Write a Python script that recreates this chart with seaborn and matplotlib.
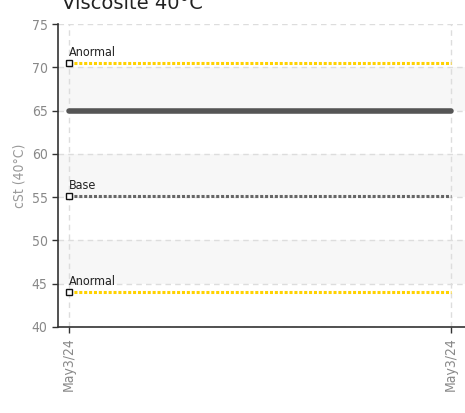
import matplotlib
matplotlib.use("Agg")
import matplotlib.pyplot as plt
import seaborn as sns
import pandas as pd
from matplotlib import font_manager

dates = ["May3/24", "May3/24"]
x_pos = [0, 1]
anormal_high = [70.5, 70.5]
mean_line = [65.0, 65.0]
base_line = [55.1, 55.1]
anormal_low = [44.0, 44.0]
y_ticks = [40, 45, 50, 55, 60, 65, 70, 75]
bands = [(45, 50), (55, 60), (65, 70)]
title = "Viscosite 40°C"
y_label = "cSt (40°C)"

sns.set_theme(style="white")
plt.rcParams['font.family'] = ['DejaVu Sans']
plt.rcParams['font.stretch'] = 'condensed'

fig = plt.figure(figsize=(4.65, 4.13), dpi=100)
ax = fig.add_axes([58/465, 1-327/413, 407/465, (327-24)/413])

for lo, hi in bands:
    ax.axhspan(lo, hi, color="#f7f7f7", zorder=0, lw=0)

df = pd.DataFrame({"x": x_pos, "ah": anormal_high, "m": mean_line,
                   "b": base_line, "al": anormal_low})

sns.lineplot(data=df, x="x", y="m", ax=ax, color="#555555", lw=4, zorder=3)
for col, colr in [("ah", "#ffd200"), ("al", "#ffd200"), ("b", "#666666")]:
    sns.lineplot(data=df, x="x", y=col, ax=ax, color=colr, lw=2.2,
                 linestyle=(0, (1, 0.6)), zorder=4,
                 marker="s", markevery=[0], markersize=5,
                 markerfacecolor="white", markeredgecolor="#111111",
                 markeredgewidth=1)

for vals, lab in [(anormal_high, "Anormal"), (base_line, "Base"), (anormal_low, "Anormal")]:
    ax.text(x_pos[0], vals[0] + 0.45, lab, fontsize=9, color="#222222",
            ha="left", va="bottom", zorder=5, fontstretch="condensed")

ax.set_xlim(-11/382, 1 + 14/382)
ax.set_ylim(40, 75)
ax.set_yticks(y_ticks)
ax.set_xticks(x_pos)
ax.set_xticklabels(dates, rotation=90, fontstretch="condensed")
ax.set_yticklabels([str(v) for v in y_ticks], fontstretch="condensed")
ax.grid(True, color="#dddddd", linestyle=(0, (4, 3)), lw=1)
ax.set_axisbelow(True)
for s in ["top", "right"]:
    ax.spines[s].set_visible(False)
for s in ["left", "bottom"]:
    ax.spines[s].set_color("#333333")
    ax.spines[s].set_linewidth(1.2)
ax.tick_params(axis="both", direction="out", length=4, width=1, color="#333333",
               labelcolor="#888888", labelsize=10, left=True, bottom=True)
ax.set_xlabel("")
ax.set_ylabel(y_label, color="#999999", fontsize=10, labelpad=4, fontstretch="condensed")

fig.text(62/465, 1-9/413, title, fontsize=14, color="#222222",
         family="DejaVu Sans", fontstretch="normal", ha="left", va="baseline")

fig.savefig("out.png", dpi=100)
